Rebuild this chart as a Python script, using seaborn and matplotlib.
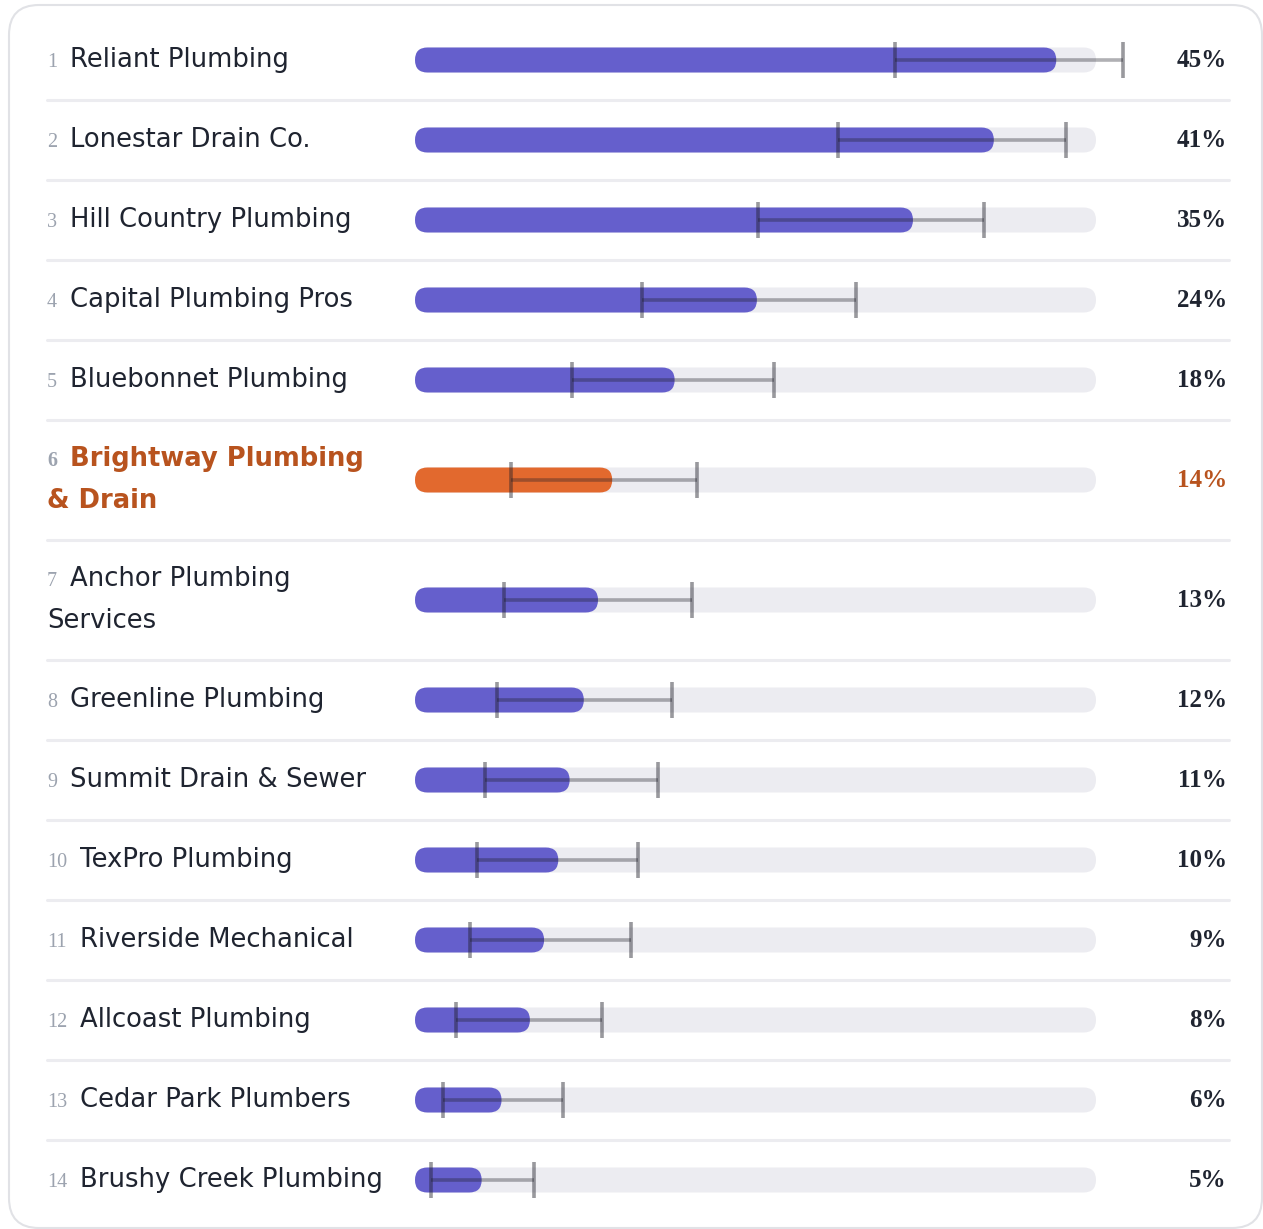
import textwrap
import numpy as np
import pandas as pd
import matplotlib
matplotlib.use("Agg")
import matplotlib.pyplot as plt
import matplotlib.transforms as mtransforms
from matplotlib.patches import FancyBboxPatch
from matplotlib.lines import Line2D
import seaborn as sns

# --- data -----------------------------------------------------------------
names = [
    "Reliant Plumbing", "Lonestar Drain Co.", "Hill Country Plumbing",
    "Capital Plumbing Pros", "Bluebonnet Plumbing", "Brightway Plumbing & Drain",
    "Anchor Plumbing Services", "Greenline Plumbing", "Summit Drain & Sewer",
    "TexPro Plumbing", "Riverside Mechanical", "Allcoast Plumbing",
    "Cedar Park Plumbers", "Brushy Creek Plumbing",
]
share = [45.2, 40.8, 35.1, 24.1, 18.3, 13.9, 12.9, 11.9, 10.9, 10.1, 9.1, 8.1, 6.1, 4.7]
ci_low = [33.8, 29.8, 24.2, 16.0, 11.1, 6.8, 6.3, 5.8, 4.9, 4.4, 3.9, 2.9, 2.0, 1.1]
ci_high = [49.9, 45.9, 40.1, 31.1, 25.3, 19.9, 19.5, 18.1, 17.1, 15.7, 15.2, 13.2, 10.4, 8.4]
highlight = "Brightway Plumbing & Drain"
TRACK_MAX = 48

# --- layout / style -------------------------------------------------------
W, H, DPI = 1263, 1229, 100
ROW_PX = 80          # height of a one-line row
TOP_PX = 20
LINE_PX = 42         # distance between wrapped name lines
BAR_X0, BAR_X1 = 415, 1096
NAME_X, PCT_X = 47, 1227

PURPLE = "#655fcc"
ORANGE = "#e2692e"
ORANGE_TXT = "#b8531e"
TRACK = "#ececf1"
ERR = "#1e1e28"
TEXT = "#1f2430"
MUTED = "#9ca3af"
RULE = "#ececf0"

sns.set_theme(style="white")
plt.rcParams["font.family"] = ["DejaVu Sans"]

labels = [textwrap.wrap(n, 18 if n == highlight else 21) for n in names]
heights = np.array([1.5 if len(l) > 1 else 1.0 for l in labels])
bottoms = np.cumsum(heights)
centers = bottoms - heights / 2
total = bottoms[-1]

df = pd.DataFrame({"name": names, "share": share, "lo": ci_low,
                   "hi": ci_high, "y": centers})
df["track"] = TRACK_MAX

fig = plt.figure(figsize=(W / DPI, H / DPI), dpi=DPI)
fig.patch.set_facecolor("white")

# card behind everything
bg = fig.add_axes([0, 0, 1, 1], zorder=-1)
bg.set_xlim(0, W)
bg.set_ylim(H, 0)
bg.axis("off")
bg.add_patch(FancyBboxPatch((9, 5), 1253, 1223,
                            boxstyle="round,pad=0,rounding_size=30",
                            fc="white", ec="#e1e2e6", lw=1.5))

ax = fig.add_axes([BAR_X0 / W, (H - TOP_PX - total * ROW_PX) / H,
                   (BAR_X1 - BAR_X0) / W, total * ROW_PX / H])
ax.patch.set_alpha(0)

bar_w = 25 / ROW_PX
palette = {n: (ORANGE if n == highlight else PURPLE) for n in names}
sns.barplot(data=df, x="track", y="y", orient="h", native_scale=True,
            width=bar_w, color=TRACK, saturation=1, ax=ax)
sns.barplot(data=df, x="share", y="y", hue="name", palette=palette, dodge=False,
            orient="h", native_scale=True, width=bar_w, saturation=1,
            legend=False, ax=ax)
ax.set_xlim(0, TRACK_MAX)
ax.set_ylim(total, 0)
ax.axis("off")

# swap square bars for rounded ones
sx = TRACK_MAX / (BAR_X1 - BAR_X0)
sy = 1 / ROW_PX
for p in list(ax.patches):
    rr = FancyBboxPatch((p.get_x(), p.get_y()), p.get_width(), p.get_height(),
                        boxstyle=f"round,pad=0,rounding_size={12.5 * sx}",
                        mutation_aspect=sy / sx, fc=p.get_facecolor(),
                        ec="none", zorder=2)
    p.remove()
    ax.add_patch(rr)

_, caps, bars = ax.errorbar(df["share"], df["y"],
                            xerr=[df["share"] - df["lo"], df["hi"] - df["share"]],
                            fmt="none", ecolor=ERR, elinewidth=2.6, capsize=13,
                            capthick=2.6, alpha=0.35, zorder=5)
for c in caps:
    c.set_alpha(0.45)
    c.set_clip_on(False)
for b in bars:
    b.set_clip_on(False)

# text and rules
trans = mtransforms.blended_transform_factory(fig.transFigure, ax.transData)
for i, row in df.iterrows():
    hl = row["name"] == highlight
    lines = labels[i]
    n = len(lines)
    rank = str(i + 1)
    color = ORANGE_TXT if hl else TEXT
    weight = "bold" if hl else "normal"
    for j, line in enumerate(lines):
        yy = row["y"] + ((j - (n - 1) / 2) * LINE_PX + 6.8) / ROW_PX
        xx = NAME_X + (len(rank) * 10.5 + 12 if j == 0 else 0)
        ax.text(xx / W, yy, line, transform=trans, fontsize=18.6,
                color=color, fontweight=weight, va="baseline", ha="left")
        if j == 0:
            ax.text(NAME_X / W, yy, rank, transform=trans, fontsize=14.5,
                    family="Liberation Serif", color=MUTED,
                    fontweight=weight, va="baseline", ha="left")
    ax.text(PCT_X / W, row["y"] + 7.2 / ROW_PX, f"{round(row['share'])}%",
            transform=trans, fontsize=18, family="Liberation Serif",
            fontweight="bold", color=ORANGE_TXT if hl else TEXT,
            va="baseline", ha="right")

for b in bottoms[:-1]:
    ax.add_line(Line2D([NAME_X / W, 1229 / W], [b, b], transform=trans,
                       color=RULE, lw=2.2, clip_on=False, zorder=0))

fig.savefig("out.png", dpi=DPI, facecolor="white")
